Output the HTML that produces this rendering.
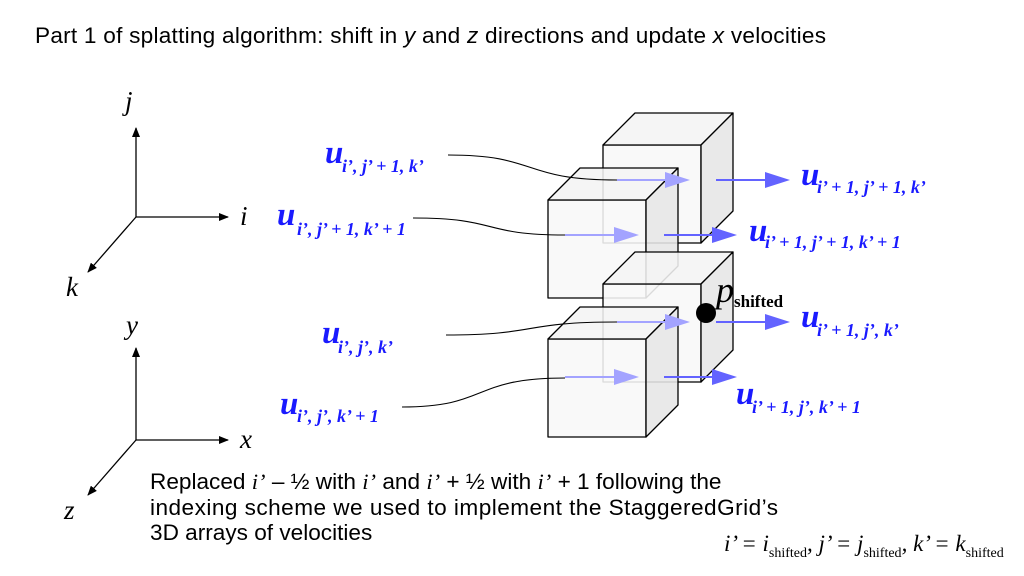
<!DOCTYPE html>
<html><head><meta charset="utf-8"><style>
html,body{margin:0;padding:0;background:#fff}
svg{display:block}
.t{font-family:"Liberation Sans",sans-serif;font-size:22.6px;fill:#000}
.ax{font-family:"Liberation Serif",serif;font-style:italic;font-size:27px;fill:#000}
.u{font-family:"Liberation Serif",serif;font-style:italic;font-weight:bold;font-size:33px;fill:#1a1aff}
.s{font-family:"Liberation Serif",serif;font-style:italic;font-weight:bold;font-size:18px;fill:#1a1aff}
.m{font-family:"Liberation Serif",serif;font-style:italic;font-size:23px;fill:#000}
.ms{font-family:"Liberation Serif",serif;font-style:normal;font-size:14px;fill:#000}
</style></head><body>
<svg width="1024" height="576" viewBox="0 0 1024 576">
<defs>
<marker id="ah" markerWidth="10" markerHeight="8" refX="9" refY="4" orient="auto" markerUnits="userSpaceOnUse"><path d="M0,0 L10,4 L0,8 Z" fill="#000"/></marker>
</defs>
<text class="t" x="35" y="43" textLength="791">Part 1 of splatting algorithm: shift in <tspan font-style="italic">y</tspan> and <tspan font-style="italic">z</tspan> directions and update <tspan font-style="italic">x</tspan> velocities</text>

<g stroke="#000" stroke-width="1.3">
<line x1="136" y1="217" x2="136" y2="128" marker-end="url(#ah)"/>
<line x1="136" y1="217" x2="228" y2="217" marker-end="url(#ah)"/>
<line x1="136" y1="217" x2="88" y2="272" marker-end="url(#ah)"/>
</g>
<text class="ax" x="125" y="110">j</text>
<text class="ax" x="240" y="225">i</text>
<text class="ax" x="66" y="296">k</text>

<g stroke="#000" stroke-width="1.3">
<line x1="136" y1="440" x2="136" y2="348" marker-end="url(#ah)"/>
<line x1="136" y1="440" x2="228" y2="440" marker-end="url(#ah)"/>
<line x1="136" y1="440" x2="88" y2="495" marker-end="url(#ah)"/>
</g>
<text class="ax" x="126" y="334">y</text>
<text class="ax" x="240" y="448">x</text>
<text class="ax" x="64" y="519">z</text>

<g id="cubes" stroke="#000" stroke-width="1.3" stroke-linejoin="round"></g>

<g id="arrows"></g>

<g fill="none" stroke="#000" stroke-width="1.1">
<path d="M448,155 C540,155 520,180 617,180"/>
<path d="M413,218 C500,218 480,235 565,235"/>
<path d="M446,335 C540,335 520,322 617,322"/>
<path d="M402,407 C490,407 470,378 565,378"/>
</g>

<circle cx="706" cy="313" r="10" fill="#000"/>
<text x="716" y="302" font-family="Liberation Serif,serif" font-style="italic" font-size="36">p</text>
<text x="734" y="307" font-family="Liberation Serif,serif" font-weight="bold" font-size="17">shifted</text>

<g>
<text class="u" x="325" y="163">u</text><text class="s" x="342" y="172">i’, j’ + 1, k’</text>
<text class="u" x="277" y="225">u</text><text class="s" x="297" y="235">i’, j’ + 1, k’ + 1</text>
<text class="u" x="322" y="343">u</text><text class="s" x="338" y="353">i’, j’, k’</text>
<text class="u" x="280" y="414">u</text><text class="s" x="297" y="422">i’, j’, k’ + 1</text>
</g>
<g>
<text class="u" x="801" y="185">u</text><text class="s" x="817" y="193">i’ + 1, j’ + 1, k’</text>
<text class="u" x="749" y="241">u</text><text class="s" x="765" y="248">i’ + 1, j’ + 1, k’ + 1</text>
<text class="u" x="801" y="327">u</text><text class="s" x="817" y="336">i’ + 1, j’, k’</text>
<text class="u" x="736" y="404">u</text><text class="s" x="752" y="413">i’ + 1, j’, k’ + 1</text>
</g>

<g>
<text class="t" x="150" y="489">Replaced <tspan font-family="Liberation Serif" font-style="italic">i’</tspan> – ½ with <tspan font-family="Liberation Serif" font-style="italic">i’</tspan> and <tspan font-family="Liberation Serif" font-style="italic">i’</tspan> + ½ with <tspan font-family="Liberation Serif" font-style="italic">i’</tspan> + 1 following the</text>
<text class="t" x="150" y="515" textLength="628">indexing scheme we used to implement the StaggeredGrid’s</text>
<text class="t" x="150" y="540">3D arrays of velocities</text>
</g>
<g>
<text class="m" x="724" y="551">i’ = i<tspan class="ms" dy="6">shifted</tspan><tspan dy="-6">, j’ = j</tspan><tspan class="ms" dy="6">shifted</tspan><tspan dy="-6">, k’ = k</tspan><tspan class="ms" dy="6">shifted</tspan></text>
</g>
</svg>
<script>
const NS='http://www.w3.org/2000/svg';
const cubeX=[603,548,603,548];
const cubeY=[145,200,284,339];
const cubeNames=['cube-back-top','cube-front-top','cube-back-bottom','cube-front-bottom'];
const S=98,DX=32,DY=-32;
const cg=document.getElementById('cubes');
function poly(g,pts,fill){const p=document.createElementNS(NS,'polygon');p.setAttribute('points',pts.map(a=>a.join(',')).join(' '));p.setAttribute('fill',fill);g.appendChild(p);}
cubeX.forEach((x,i)=>{const y=cubeY[i];const g=document.createElementNS(NS,'g');


g.setAttribute('fill-opacity','0.88');
poly(g,[[x,y],[x+S,y],[x+S,y+S],[x,y+S]],'#f8f8f8');
poly(g,[[x,y],[x+DX,y+DY],[x+S+DX,y+DY],[x+S,y]],'#f4f4f4');
poly(g,[[x+S,y],[x+S+DX,y+DY],[x+S+DX,y+S+DY],[x+S,y+S]],'#e6e6e6');
cg.appendChild(g);});
const rowY=[180,235,322,377];
const lightStart=[617,565,617,565];
const lightEnd=[690,639,690,639];
const brightStart=[716,664,716,664];
const brightEnd=[790,737,790,737];
const ag=document.getElementById('arrows');
function arrow(x1,x2,y,col,name){const g=document.createElementNS(NS,'g');


const l=document.createElementNS(NS,'line');l.setAttribute('x1',x1);l.setAttribute('x2',x2-20);l.setAttribute('y1',y);l.setAttribute('y2',y);l.setAttribute('stroke',col);l.setAttribute('stroke-width','2');g.appendChild(l);
const p=document.createElementNS(NS,'polygon');p.setAttribute('points',`${x2-25},${y-8} ${x2},${y} ${x2-25},${y+8}`);p.setAttribute('fill',col);g.appendChild(p);ag.appendChild(g);}
rowY.forEach((y,i)=>{arrow(lightStart[i],lightEnd[i],y,'#a3a3ff','inner-arrow');arrow(brightStart[i],brightEnd[i],y,'#6363ff','outer-arrow');});
</script>
</body></html>
